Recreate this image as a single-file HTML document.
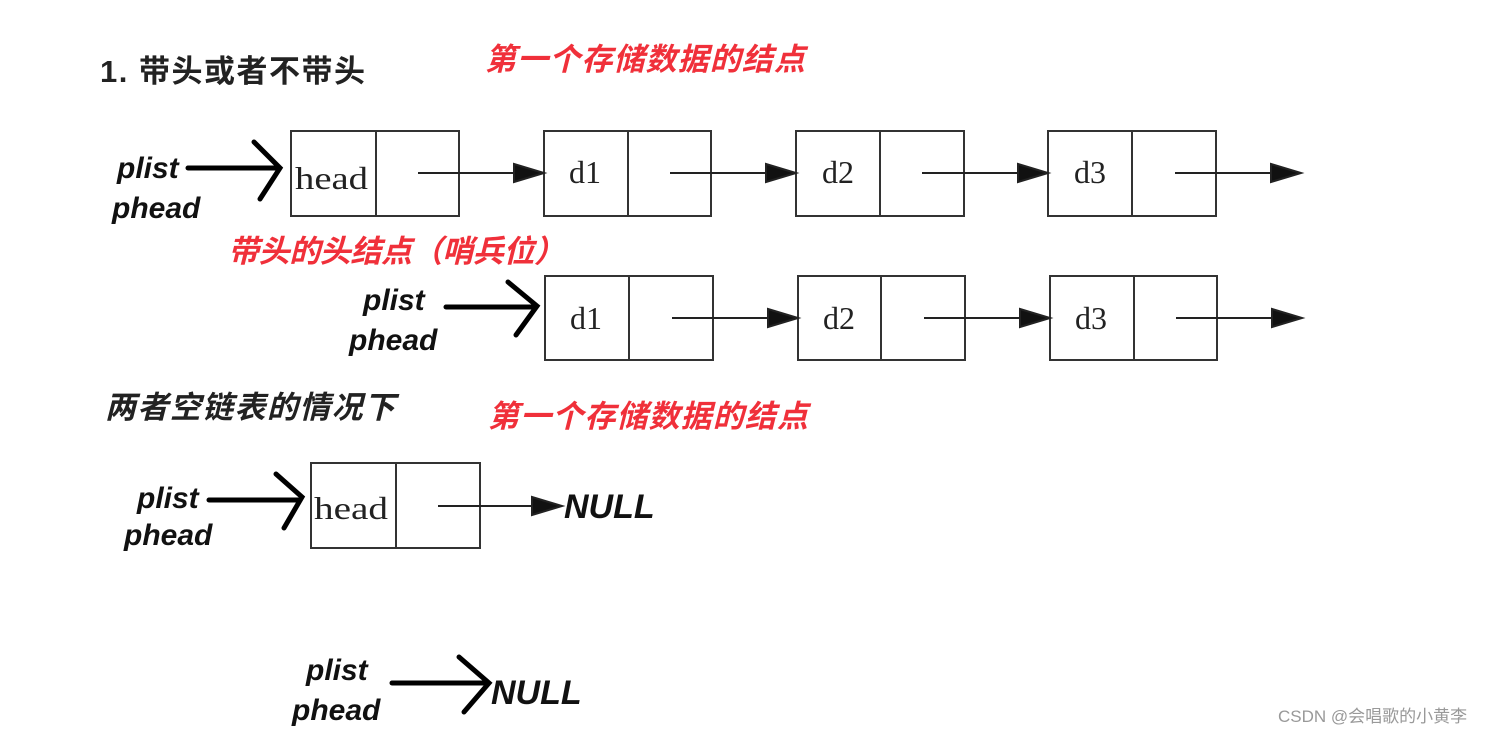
<!DOCTYPE html>
<html><head><meta charset="utf-8"><style>
html,body{margin:0;padding:0;background:#fff;width:1504px;height:736px;overflow:hidden}
</style></head><body>
<svg width="1504" height="736" xmlns="http://www.w3.org/2000/svg">
<g fill="#fff" stroke="#333" stroke-width="2">
<rect x="291" y="131" width="168" height="85"/><line x1="376" y1="131" x2="376" y2="216"/>
<rect x="544" y="131" width="167" height="85"/><line x1="628" y1="131" x2="628" y2="216"/>
<rect x="796" y="131" width="168" height="85"/><line x1="880" y1="131" x2="880" y2="216"/>
<rect x="1048" y="131" width="168" height="85"/><line x1="1132" y1="131" x2="1132" y2="216"/>
<rect x="545" y="276" width="168" height="84"/><line x1="629" y1="276" x2="629" y2="360"/>
<rect x="798" y="276" width="167" height="84"/><line x1="881" y1="276" x2="881" y2="360"/>
<rect x="1050" y="276" width="167" height="84"/><line x1="1134" y1="276" x2="1134" y2="360"/>
<rect x="311" y="463" width="169" height="85"/><line x1="396" y1="463" x2="396" y2="548"/>
</g>
<g stroke="#222" stroke-width="2" fill="#111">
<line x1="418" y1="173" x2="518" y2="173"/><polygon points="514,164 544,173 514,182"/>
<line x1="670" y1="173" x2="770" y2="173"/><polygon points="766,164 796,173 766,182"/>
<line x1="922" y1="173" x2="1022" y2="173"/><polygon points="1018,164 1048,173 1018,182"/>
<line x1="1175" y1="173" x2="1275" y2="173"/><polygon points="1271,164 1301,173 1271,182"/>
<line x1="672" y1="318" x2="772" y2="318"/><polygon points="768,309 798,318 768,327"/>
<line x1="924" y1="318" x2="1024" y2="318"/><polygon points="1020,309 1050,318 1020,327"/>
<line x1="1176" y1="318" x2="1276" y2="318"/><polygon points="1272,309 1302,318 1272,327"/>
<line x1="438" y1="506" x2="536" y2="506"/><polygon points="532,497 562,506 532,515"/>
</g>
<g font-family="Liberation Serif, serif" font-size="32" fill="#222">
<text x="295" y="189" textLength="73" lengthAdjust="spacingAndGlyphs">head</text><text x="569" y="183">d1</text><text x="822" y="183">d2</text><text x="1074" y="183">d3</text>
<text x="570" y="329">d1</text><text x="823" y="329">d2</text><text x="1075" y="329">d3</text>
<text x="314" y="519" textLength="74" lengthAdjust="spacingAndGlyphs">head</text>
</g>
<g stroke="#000" stroke-width="5" fill="none" stroke-linecap="round" stroke-linejoin="miter">
<line x1="188" y1="168" x2="278" y2="168"/><polyline points="254,142 280,168 260,199"/>
<line x1="446" y1="307" x2="535" y2="307"/><polyline points="508,282 537,306 516,335"/>
<line x1="209" y1="500" x2="300" y2="500"/><polyline points="276,474 302,497 284,528"/>
<line x1="392" y1="683" x2="488" y2="683"/><polyline points="459,657 489,683 464,712"/>
</g>
<g font-family="Liberation Sans, sans-serif" font-weight="bold" font-style="italic" font-size="30" fill="#111">
<text x="117" y="178">plist</text><text x="112" y="218">phead</text>
<text x="363" y="310">plist</text><text x="349" y="350">phead</text>
<text x="137" y="508">plist</text><text x="124" y="545">phead</text>
<text x="306" y="680">plist</text><text x="292" y="720">phead</text>
<text x="564" y="518" font-size="34">NULL</text>
<text x="491" y="704" font-size="34">NULL</text>
</g>
<g font-family="Liberation Sans, Noto Sans CJK SC, sans-serif" font-weight="bold">
<text x="100" y="82" font-size="31" fill="#222" textLength="265">1. 带头或者不带头</text>
<text x="105" y="418" font-size="31" fill="#222" font-style="italic" textLength="290">两者空链表的情况下</text>
<g fill="#f0303a" font-style="italic" font-size="31">
<text x="485" y="70" textLength="320">第一个存储数据的结点</text>
<text x="228" y="262" textLength="337">带头的头结点（哨兵位）</text>
<text x="488" y="427" textLength="320">第一个存储数据的结点</text>
</g>
</g>
<text x="1278" y="722" font-family="Liberation Sans, Noto Sans CJK SC, sans-serif" font-size="17" fill="#999">CSDN @会唱歌的小黄李</text>
</svg>
</body></html>
